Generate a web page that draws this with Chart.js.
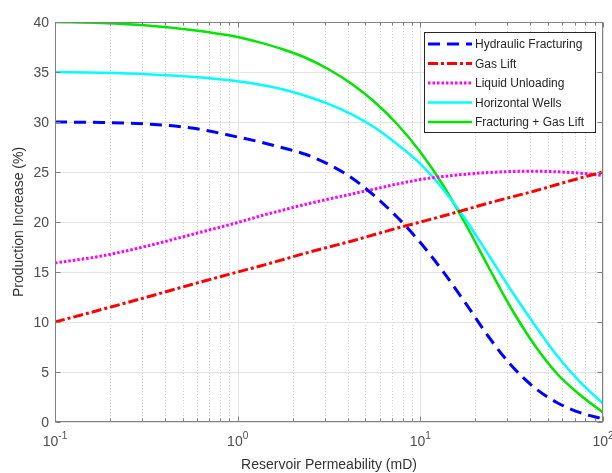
<!DOCTYPE html>
<html>
<head>
<title>Production increase vs reservoir permeability</title>
<style>
  body { margin: 0; background: #ffffff; }
  canvas { display: block; }
</style>
</head>
<body>
<canvas id="chart1" width="612" height="473"></canvas>
<script src="https://cdn.jsdelivr.net/npm/chart.js@4/dist/chart.umd.min.js"></script>
<script>
// permeability (mD), read at roughly even steps along the log axis
const permeability = [0.1, 0.18, 0.32, 0.56, 1, 1.33, 1.78, 2.37, 3.16, 4.22, 5.62, 7.5, 10, 13.3, 17.8, 23.7, 31.6, 42.2, 56.2, 75, 100];

// production increase (%)
const hydraulicFracturing = [30.0, 29.95, 29.8, 29.4, 28.5, 28.0, 27.4, 26.75, 25.75, 24.4, 22.6, 20.45, 17.95, 15.06, 11.81, 8.5, 5.62, 3.43, 1.93, 0.93, 0.3];
const gasLift = [10.0, 11.25, 12.5, 13.75, 15.0, 15.6, 16.25, 16.9, 17.5, 18.1, 18.75, 19.4, 20.0, 20.6, 21.25, 21.9, 22.5, 23.1, 23.75, 24.4, 25.0];
const liquidUnloading = [15.9, 16.6, 17.6, 18.75, 19.95, 20.6, 21.2, 21.78, 22.3, 22.8, 23.3, 23.8, 24.25, 24.55, 24.78, 24.95, 25.05, 25.08, 25.02, 24.88, 24.65];
const horizontalWells = [35.0, 34.92, 34.77, 34.52, 34.07, 33.72, 33.25, 32.6, 31.79, 30.76, 29.45, 27.76, 25.82, 23.3, 20.17, 16.67, 13.1, 9.73, 6.6, 3.98, 1.85];
const fracturingGasLift = [40.0, 39.9, 39.65, 39.2, 38.5, 37.94, 37.25, 36.4, 35.25, 33.8, 32.0, 29.75, 27.0, 23.7, 19.7, 15.45, 11.3, 7.7, 4.8, 2.7, 0.95];

const seriesNames = ['Hydraulic Fracturing', 'Gas Lift', 'Liquid Unloading', 'Horizontal Wells', 'Fracturing + Gas Lift'];

const yTicks = [0, 5, 10, 15, 20, 25, 30, 35, 40];
const xDecades = [0.1, 1, 10, 100];
const xExponents = ['-1', '0', '1', '2'];

const xTitle = 'Reservoir Permeability (mD)';
const yTitle = 'Production Increase (%)';

const FONT = '"Liberation Sans", Arial, sans-serif';

function toPoints(values) {
  return permeability.map((k, i) => ({ x: k, y: values[i] }));
}

const styles = [
  { color: '#0000ff', dash: [12, 7], width: 3 },
  { color: '#ff0000', dash: [10, 3, 3, 3], width: 3 },
  { color: '#ff00ff', dash: [2.5, 2], width: 3 },
  { color: '#00ffff', dash: [], width: 2.5 },
  { color: '#00e600', dash: [], width: 2.5 }
];
const seriesValues = [hydraulicFracturing, gasLift, liquidUnloading, horizontalWells, fracturingGasLift];

const datasets = seriesValues.map((vals, i) => ({
  label: seriesNames[i],
  data: toPoints(vals),
  borderColor: styles[i].color,
  backgroundColor: 'transparent',
  borderWidth: styles[i].width,
  borderDash: styles[i].dash,
  pointRadius: 0,
  cubicInterpolationMode: 'monotone',
  fill: false
}));

// grid, box, inner ticks, labels and legend drawn MATLAB-style
const matlabAxes = {
  id: 'matlabAxes',
  beforeDatasetsDraw(chart) {
    const { ctx, chartArea: a, scales: { x, y } } = chart;
    ctx.save();
    ctx.lineWidth = 1;

    // minor x grid (dotted)
    ctx.strokeStyle = '#d4d4d4';
    ctx.setLineDash([1, 2]);
    for (let d = 0; d < xDecades.length - 1; d++) {
      for (let m = 2; m <= 9; m++) {
        const px = Math.round(x.getPixelForValue(xDecades[d] * m)) + 0.5;
        ctx.beginPath();
        ctx.moveTo(px, a.top);
        ctx.lineTo(px, a.bottom);
        ctx.stroke();
      }
    }

    // major grid
    ctx.setLineDash([]);
    ctx.strokeStyle = '#e3e3e3';
    xDecades.forEach(v => {
      const px = Math.round(x.getPixelForValue(v)) + 0.5;
      ctx.beginPath();
      ctx.moveTo(px, a.top);
      ctx.lineTo(px, a.bottom);
      ctx.stroke();
    });
    yTicks.forEach(v => {
      const py = Math.round(y.getPixelForValue(v)) + 0.5;
      ctx.beginPath();
      ctx.moveTo(a.left, py);
      ctx.lineTo(a.right, py);
      ctx.stroke();
    });
    ctx.restore();
  },
  afterDatasetsDraw(chart) {
    const { ctx, chartArea: a, scales: { x, y } } = chart;
    ctx.save();
    ctx.lineWidth = 1;
    ctx.setLineDash([]);
    ctx.strokeStyle = '#808080';

    const L = Math.round(a.left) + 0.5, R = Math.round(a.right) - 0.5;
    const T = Math.round(a.top) + 0.5, B = Math.round(a.bottom) - 0.5;
    ctx.strokeRect(L, T, R - L, B - T);

    // inner ticks
    ctx.beginPath();
    yTicks.forEach(v => {
      const py = Math.round(y.getPixelForValue(v)) + 0.5;
      ctx.moveTo(L, py); ctx.lineTo(L + 5, py);
      ctx.moveTo(R, py); ctx.lineTo(R - 5, py);
    });
    for (let d = 0; d < xDecades.length; d++) {
      const px = Math.round(x.getPixelForValue(xDecades[d])) + 0.5;
      ctx.moveTo(px, B); ctx.lineTo(px, B - 5);
      ctx.moveTo(px, T); ctx.lineTo(px, T + 5);
      if (d < xDecades.length - 1) {
        for (let m = 2; m <= 9; m++) {
          const mx = Math.round(x.getPixelForValue(xDecades[d] * m)) + 0.5;
          ctx.moveTo(mx, B); ctx.lineTo(mx, B - 3);
          ctx.moveTo(mx, T); ctx.lineTo(mx, T + 3);
        }
      }
    }
    ctx.stroke();

    // y tick labels
    ctx.fillStyle = '#4d4d4d';
    ctx.font = '14px ' + FONT;
    ctx.textAlign = 'right';
    ctx.textBaseline = 'middle';
    yTicks.forEach(v => {
      ctx.fillText(String(v), a.left - 6, y.getPixelForValue(v) + 1);
    });

    // x tick labels with superscript exponent
    ctx.textBaseline = 'alphabetic';
    ctx.textAlign = 'left';
    xDecades.forEach((v, i) => {
      ctx.font = '14px ' + FONT;
      const wBase = ctx.measureText('10').width;
      ctx.font = '10px ' + FONT;
      const wExp = ctx.measureText(xExponents[i]).width;
      const cx = x.getPixelForValue(v);
      const start = cx - (wBase + wExp) / 2;
      ctx.font = '14px ' + FONT;
      ctx.fillText('10', start, 446);
      ctx.font = '10px ' + FONT;
      ctx.fillText(xExponents[i], start + wBase, 439);
    });

    // axis titles
    ctx.fillStyle = '#333333';
    ctx.font = '14px ' + FONT;
    ctx.textAlign = 'center';
    ctx.textBaseline = 'middle';
    ctx.fillText(xTitle, (a.left + a.right) / 2, 465);
    ctx.save();
    ctx.translate(19, (a.top + a.bottom) / 2);
    ctx.rotate(-Math.PI / 2);
    ctx.fillText(yTitle, 0, 0);
    ctx.restore();

    // legend
    const box = { left: 424.5, top: 32.5, width: 171, height: 100 };
    ctx.fillStyle = '#ffffff';
    ctx.fillRect(box.left, box.top, box.width, box.height);
    ctx.strokeStyle = '#262626';
    ctx.lineWidth = 1;
    ctx.strokeRect(box.left, box.top, box.width, box.height);
    ctx.font = '12px ' + FONT;
    ctx.textAlign = 'left';
    ctx.textBaseline = 'middle';
    chart.data.datasets.forEach((ds, i) => {
      const cy = 44 + i * 19.5;
      ctx.beginPath();
      ctx.strokeStyle = ds.borderColor;
      ctx.lineWidth = ds.borderWidth;
      ctx.setLineDash(ds.borderDash);
      ctx.moveTo(428, cy);
      ctx.lineTo(472, cy);
      ctx.stroke();
      ctx.setLineDash([]);
      ctx.fillStyle = '#262626';
      ctx.fillText(ds.label, 475, cy + 1);
    });
    ctx.restore();
  }
};

const ctx = document.getElementById('chart1').getContext('2d');
const chart = new Chart(ctx, {
  type: 'line',
  data: { datasets: datasets },
  options: {
    responsive: false,
    animation: false,
    layout: { padding: { left: 55, right: 9, top: 22, bottom: 51 } },
    plugins: {
      legend: { display: false },
      tooltip: { enabled: false }
    },
    scales: {
      x: { type: 'logarithmic', min: 0.1, max: 100, display: false },
      y: { type: 'linear', min: 0, max: 40, display: false }
    }
  },
  plugins: [matlabAxes]
});
</script>
</body>
</html>
